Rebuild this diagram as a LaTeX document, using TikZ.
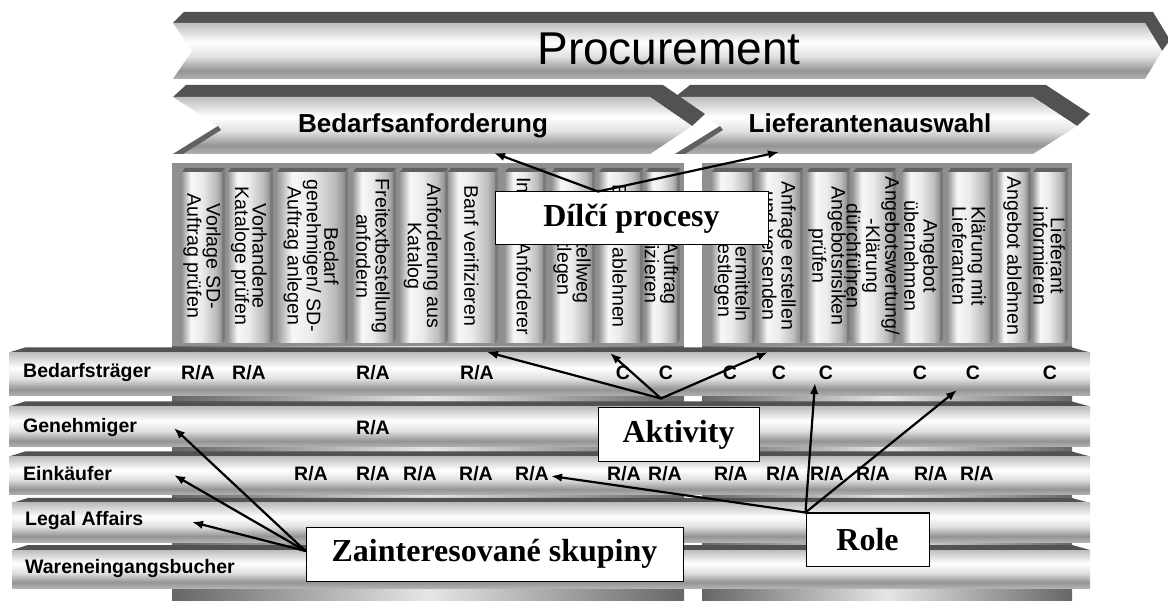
\documentclass[tikz,border=0pt]{standalone}
\usepackage{fontspec}
\setmainfont{Liberation Sans}
\newfontfamily\calloutfont{Liberation Serif}
\usetikzlibrary{arrows.meta,calc}

% cylinder-like shadings (the middle 25bp..75bp band spans the filled path)
\pgfdeclareverticalshading{barshade}{100bp}{color(0bp)=(black!30); color(25bp)=(black!30); color(32.5bp)=(black!42); color(45bp)=(black!12); color(57.5bp)=(white); color(75bp)=(black!26); color(100bp)=(black!26)}
\pgfdeclarehorizontalshading{colshade}{100bp}{color(0bp)=(black!40); color(25bp)=(black!40); color(36bp)=(black!3); color(50bp)=(black!8); color(67bp)=(black!26); color(75bp)=(black!44); color(100bp)=(black!44)}
\pgfdeclarehorizontalshading{baseshade}{100bp}{color(0bp)=(black!60); color(25bp)=(black!60); color(50bp)=(black!10); color(75bp)=(black!60); color(100bp)=(black!60)}

% one sub-process column: [baselineskip]{name}{left x}{right x}{text}
\newcommand\colbar[5][17.5]{%
  \shade[shading=colshade] (#3,172) rectangle (#4,343);
  \fill[black!62] (#3,172) -- (#3+3,168) -- (#4+3,168) -- (#4,172) -- cycle;
  \fill[black!52] (#4,172) -- (#4+3,168) -- (#4+3,339) -- (#4,343) -- cycle;
  \node[coltext, font=\fontsize{19.6}{#1}\selectfont] (#2) at ({(#3+#4)/2},256) {#5};
}
% one role row: {left x}{top y}{bottom y}
\newcommand\rowbar[3]{%
  \fill[black!68] (#1,#2+5) -- (#1+16,#2) -- (1072,#2) -- (1090,#2+5) -- cycle;
  \shade[shading=barshade] (#1,#2+5) rectangle (1090,#3);
}

\begin{document}
\begin{tikzpicture}[x=1pt,y=-1pt,
  coltext/.style={rotate=-90, align=center, inner sep=0pt},
  rowlabel/.style={anchor=west, inner sep=0pt, font=\bfseries\fontsize{19.5}{22}\selectfont},
  cell/.style={inner sep=0pt, font=\bfseries\fontsize{19.5}{22}\selectfont},
  chevtext/.style={anchor=base, inner sep=0pt},
  callout/.style={draw=black, line width=1pt, fill=white, inner sep=0pt,
    font=\calloutfont\bfseries\fontsize{32}{36}\selectfont},
  pointer/.style={line width=2.2pt, line cap=round, -{Latex[length=11pt,width=8.5pt]}}]
\useasboundingbox (0,0) rectangle (1168,601);

% ---- panels behind the columns and rows
\fill[black!44] (172,163) rectangle (684,347);
\fill[black!44] (702,163) rectangle (1072,347);
\shade[shading=baseshade] (172,347) rectangle (684,601);
\shade[shading=baseshade] (702,347) rectangle (1072,601);

% ---- sub-process columns
\colbar{c1}{182}{222}{Vorlage SD-\\Auftrag prüfen}
\colbar{c2}{228}{270}{Vorhandene\\Kataloge prüfen}
\colbar{c3}{277}{345}{Bedarf\\genehmigen/ SD-\\Auftrag anlegen}
\colbar{c4}{353}{393}{Freitextbestellung\\anfordern}
\colbar{c5}{400}{445}{Anforderung aus\\Katalog}
\colbar{c6}{448}{495}{Banf verifizieren}
\colbar{c7}{505}{543}{Info an Anforderer}
\colbar{c8}{552}{592}{Bestellweg\\festlegen}
\colbar{c9}{599}{640}{Bedarf ablehnen}
\colbar{c10}{646}{677}{SD-Auftrag\\verifizieren}
\colbar{c11}{712}{752}{Bieter ermitteln\\Frist festlegen}
\colbar{c12}{758}{800}{Anfrage erstellen\\und versenden}
\colbar{c13}{807}{847}{Angebotsrisiken\\prüfen}
\colbar[15.5]{c14}{853}{893}{Angebotswertung/\\-Klärung\\dürchführen}
\colbar{c15}{902}{940}{Angebot\\übernehmen}
\colbar{c16}{948}{990}{Klärung mit\\Lieferanten}
\colbar{c17}{997}{1028}{Angebot ablehnen}
\colbar{c18}{1033}{1065}{Lieferant\\informieren}

% ---- role rows
\rowbar{9}{347.5}{396}
\rowbar{9}{401.5}{447}
\rowbar{9}{451.5}{495}
\rowbar{12}{498}{542}
\rowbar{12}{545}{588}

% ---- process chevrons
\fill[black!68] (173,23) -- (184,12) -- (1153,12) -- (1170,40) -- (1162,51) -- (1145,23) -- cycle;
\shade[shading=barshade] (173,23) -- (1145,23) -- (1162,51) -- (1145,79) -- (173,79) -- (192,51) -- cycle;

\fill[black!68] (675,97) -- (690,85) -- (1046,85) -- (1090,114) -- (1077,126) -- (1033,97) -- cycle;
\shade[shading=barshade] (675,97) -- (1033,97) -- (1077,126) -- (1033,154) -- (675,154) -- (720,126) -- cycle;
\fill[black!62] (675,154) -- (720,126) -- (723,130) -- (685,154) -- cycle;

\fill[black!68] (173,97) -- (186,85) -- (663,85) -- (705,114) -- (692,126) -- (650,97) -- cycle;
\shade[shading=barshade] (173,97) -- (650,97) -- (692,126) -- (650,154) -- (173,154) -- (218,126) -- cycle;
\fill[black!62] (173,154) -- (218,126) -- (221,130) -- (183,154) -- cycle;

\node[chevtext, font=\fontsize{46}{50}\selectfont] (proc) at (669,65) {Procurement};
\node[chevtext, font=\bfseries\fontsize{26}{30}\selectfont] (bedarf) at (423,133) {Bedarfsanforderung};
\node[chevtext, font=\bfseries\fontsize{26}{30}\selectfont] (liefer) at (870,133) {Lieferantenauswahl};

% ---- row labels
\node[rowlabel] (lab1) at (23,373) {Bedarfsträger};
\node[rowlabel] (lab2) at (23,428) {Genehmiger};
\node[rowlabel] (lab3) at (23,474) {Einkäufer};
\node[rowlabel] (lab4) at (25,521) {Legal Affairs};
\node[rowlabel] (lab5) at (25,569) {Wareneingangsbucher};

% ---- responsibilities
\foreach \x [count=\i] in {198,249,373,477}
  \node[cell] (ra1-\i) at (\x,373) {R/A};
\foreach \x [count=\i] in {623,666,730,779,826,920,973,1050}
  \node[cell] (cc1-\i) at (\x,373) {C};
\node[cell] (ra2-1) at (373,428) {R/A};
\foreach \x [count=\i] in {311,373,420,476,532,624,665,731,783,827,873,931,977}
  \node[cell] (ra3-\i) at (\x,474) {R/A};

% ---- call-out boxes
\node[callout, minimum width=273, minimum height=53] (dp) at (631.5,218.5) {Dílčí procesy};
\node[callout, minimum width=161, minimum height=54] (akt) at (678.5,435) {Aktivity};
\node[callout, minimum width=123, minimum height=53] (role) at (867.5,539.5) {Role};
\node[callout, minimum width=377, minimum height=54] (zs) at (494.5,554) {Zainteresované skupiny};

% ---- arrow targets
\coordinate (tBed) at (494,153);
\coordinate (tLief) at (779,152);
\coordinate (tBanf) at (487,352);
\coordinate (tAbl) at (610,353);
\coordinate (tAnf) at (768,352);
\coordinate (tRA) at (551,476);
\coordinate (tC1) at (815,383);
\coordinate (tC2) at (957,390);
\coordinate (tGen) at (174,428);
\coordinate (tEink) at (174,475);
\coordinate (tLegal) at (192,522);

% ---- pointers
\coordinate (dpApex) at ([xshift=-33.5pt]dp.north);
\draw[pointer] (dpApex) -- (tBed);
\draw[pointer] (dpApex) -- (tLief);

\coordinate (aktApex) at ([xshift=-17.5pt,yshift=9pt]akt.north);
\draw[pointer] (aktApex) -- (tBanf);
\draw[pointer] (aktApex) -- (tAbl);
\draw[pointer] (aktApex) -- (tAnf);

\draw[pointer] (role.north west) -- (tRA);
\draw[pointer] (role.north west) -- (tC1);
\draw[pointer] (role.north west) -- (tC2);

\coordinate (zsApex) at ([yshift=3pt]zs.west);
\draw[pointer] (zsApex) -- (tGen);
\draw[pointer] (zsApex) -- (tEink);
\draw[pointer] (zsApex) -- (tLegal);
\end{tikzpicture}
\end{document}
